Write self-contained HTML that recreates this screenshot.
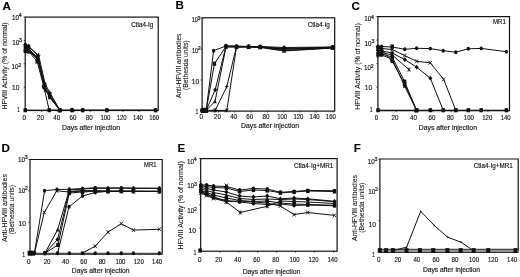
<!DOCTYPE html>
<html><head><meta charset="utf-8"><style>
html,body{margin:0;padding:0;background:#fff;}
body{width:520px;height:277px;overflow:hidden;font-family:"Liberation Sans", sans-serif;}
svg{display:block;} #w{will-change:transform;}
</style></head><body>
<div id="w"><svg width="520" height="277" viewBox="0 0 520 277" font-family='"Liberation Sans", sans-serif' fill="#111">
<rect width="520" height="277" fill="#fff"/>
<rect x="25.20" y="17.10" width="133.00" height="93.40" fill="none" stroke="#111" stroke-width="1.2"/>
<line x1="23.60" y1="110.50" x2="25.20" y2="110.50" stroke="#111" stroke-width="0.7"/>
<line x1="23.60" y1="87.15" x2="25.20" y2="87.15" stroke="#111" stroke-width="0.7"/>
<line x1="23.60" y1="63.80" x2="25.20" y2="63.80" stroke="#111" stroke-width="0.7"/>
<line x1="23.60" y1="40.45" x2="25.20" y2="40.45" stroke="#111" stroke-width="0.7"/>
<line x1="23.60" y1="17.10" x2="25.20" y2="17.10" stroke="#111" stroke-width="0.7"/>
<text x="19.00" y="19.65" font-size="7.3" text-anchor="end" stroke="#111" stroke-width="0.15" textLength="7.00" lengthAdjust="spacingAndGlyphs">10</text>
<text x="18.80" y="17.20" font-size="5.0" text-anchor="start" stroke="#111" stroke-width="0.2" textLength="2.90" lengthAdjust="spacingAndGlyphs">4</text>
<text x="19.30" y="44.75" font-size="7.3" text-anchor="end" stroke="#111" stroke-width="0.15" textLength="7.00" lengthAdjust="spacingAndGlyphs">10</text>
<text x="19.10" y="42.30" font-size="5.0" text-anchor="start" stroke="#111" stroke-width="0.2" textLength="2.90" lengthAdjust="spacingAndGlyphs">3</text>
<text x="18.60" y="69.25" font-size="7.3" text-anchor="end" stroke="#111" stroke-width="0.15" textLength="7.00" lengthAdjust="spacingAndGlyphs">10</text>
<text x="18.40" y="66.80" font-size="5.0" text-anchor="start" stroke="#111" stroke-width="0.2" textLength="2.90" lengthAdjust="spacingAndGlyphs">2</text>
<text x="19.60" y="89.60" font-size="7.6" text-anchor="end" stroke="#111" stroke-width="0.15" textLength="7.50" lengthAdjust="spacingAndGlyphs">10</text>
<text x="20.00" y="111.50" font-size="7.2" text-anchor="end" stroke="#111" stroke-width="0.15" textLength="2.90" lengthAdjust="spacingAndGlyphs">1</text>
<line x1="25.30" y1="110.50" x2="25.30" y2="112.00" stroke="#111" stroke-width="0.7"/>
<line x1="41.55" y1="110.50" x2="41.55" y2="112.00" stroke="#111" stroke-width="0.7"/>
<line x1="57.80" y1="110.50" x2="57.80" y2="112.00" stroke="#111" stroke-width="0.7"/>
<line x1="74.05" y1="110.50" x2="74.05" y2="112.00" stroke="#111" stroke-width="0.7"/>
<line x1="90.30" y1="110.50" x2="90.30" y2="112.00" stroke="#111" stroke-width="0.7"/>
<line x1="106.55" y1="110.50" x2="106.55" y2="112.00" stroke="#111" stroke-width="0.7"/>
<line x1="122.80" y1="110.50" x2="122.80" y2="112.00" stroke="#111" stroke-width="0.7"/>
<line x1="139.05" y1="110.50" x2="139.05" y2="112.00" stroke="#111" stroke-width="0.7"/>
<line x1="155.30" y1="110.50" x2="155.30" y2="112.00" stroke="#111" stroke-width="0.7"/>
<text x="24.20" y="120.05" font-size="7.2" text-anchor="middle" stroke="#111" stroke-width="0.15" textLength="3.50" lengthAdjust="spacingAndGlyphs">0</text>
<text x="40.45" y="120.05" font-size="7.2" text-anchor="middle" stroke="#111" stroke-width="0.15" textLength="6.90" lengthAdjust="spacingAndGlyphs">20</text>
<text x="56.70" y="120.05" font-size="7.2" text-anchor="middle" stroke="#111" stroke-width="0.15" textLength="6.90" lengthAdjust="spacingAndGlyphs">40</text>
<text x="72.95" y="120.05" font-size="7.2" text-anchor="middle" stroke="#111" stroke-width="0.15" textLength="6.90" lengthAdjust="spacingAndGlyphs">60</text>
<text x="89.20" y="120.05" font-size="7.2" text-anchor="middle" stroke="#111" stroke-width="0.15" textLength="6.90" lengthAdjust="spacingAndGlyphs">80</text>
<text x="105.45" y="120.05" font-size="7.2" text-anchor="middle" stroke="#111" stroke-width="0.15" textLength="10.00" lengthAdjust="spacingAndGlyphs">100</text>
<text x="121.70" y="120.05" font-size="7.2" text-anchor="middle" stroke="#111" stroke-width="0.15" textLength="10.00" lengthAdjust="spacingAndGlyphs">120</text>
<text x="137.95" y="120.05" font-size="7.2" text-anchor="middle" stroke="#111" stroke-width="0.15" textLength="10.00" lengthAdjust="spacingAndGlyphs">140</text>
<text x="154.20" y="120.05" font-size="7.2" text-anchor="middle" stroke="#111" stroke-width="0.15" textLength="10.00" lengthAdjust="spacingAndGlyphs">160</text>
<text x="62.00" y="129.50" font-size="6.8" text-anchor="start" stroke="#111" stroke-width="0.15" textLength="58.10" lengthAdjust="spacingAndGlyphs">Days after injection</text>
<text x="2.50" y="9.80" font-size="11.6" text-anchor="start" font-weight="bold" stroke="#000" stroke-width="0.1" fill="#000">A</text>
<text x="131.30" y="27.20" font-size="6.6" text-anchor="start" stroke="#111" stroke-width="0.15" textLength="22.00" lengthAdjust="spacingAndGlyphs">Ctla4-Ig</text>
<text x="7.30" y="109.60" font-size="6.8" text-anchor="start" stroke="#111" stroke-width="0.08" textLength="87.20" lengthAdjust="spacingAndGlyphs" transform="rotate(-90 7.30 109.60)">HFVIII Activity (% of normal)</text>
<rect x="202.10" y="17.80" width="132.60" height="93.30" fill="none" stroke="#111" stroke-width="1.2"/>
<line x1="200.50" y1="111.10" x2="202.10" y2="111.10" stroke="#111" stroke-width="0.7"/>
<line x1="200.50" y1="80.00" x2="202.10" y2="80.00" stroke="#111" stroke-width="0.7"/>
<line x1="200.50" y1="48.90" x2="202.10" y2="48.90" stroke="#111" stroke-width="0.7"/>
<line x1="200.50" y1="17.80" x2="202.10" y2="17.80" stroke="#111" stroke-width="0.7"/>
<text x="197.70" y="22.35" font-size="7.3" text-anchor="end" stroke="#111" stroke-width="0.15" textLength="6.00" lengthAdjust="spacingAndGlyphs">10</text>
<text x="197.50" y="19.90" font-size="5.0" text-anchor="start" stroke="#111" stroke-width="0.2" textLength="2.90" lengthAdjust="spacingAndGlyphs">3</text>
<text x="197.90" y="52.55" font-size="7.3" text-anchor="end" stroke="#111" stroke-width="0.15" textLength="6.00" lengthAdjust="spacingAndGlyphs">10</text>
<text x="197.70" y="50.10" font-size="5.0" text-anchor="start" stroke="#111" stroke-width="0.2" textLength="2.90" lengthAdjust="spacingAndGlyphs">2</text>
<text x="199.20" y="83.70" font-size="7.6" text-anchor="end" stroke="#111" stroke-width="0.15" textLength="7.50" lengthAdjust="spacingAndGlyphs">10</text>
<text x="198.40" y="113.50" font-size="7.2" text-anchor="end" stroke="#111" stroke-width="0.15" textLength="2.90" lengthAdjust="spacingAndGlyphs">1</text>
<line x1="202.10" y1="111.10" x2="202.10" y2="112.60" stroke="#111" stroke-width="0.7"/>
<line x1="218.42" y1="111.10" x2="218.42" y2="112.60" stroke="#111" stroke-width="0.7"/>
<line x1="234.74" y1="111.10" x2="234.74" y2="112.60" stroke="#111" stroke-width="0.7"/>
<line x1="251.06" y1="111.10" x2="251.06" y2="112.60" stroke="#111" stroke-width="0.7"/>
<line x1="267.38" y1="111.10" x2="267.38" y2="112.60" stroke="#111" stroke-width="0.7"/>
<line x1="283.70" y1="111.10" x2="283.70" y2="112.60" stroke="#111" stroke-width="0.7"/>
<line x1="300.02" y1="111.10" x2="300.02" y2="112.60" stroke="#111" stroke-width="0.7"/>
<line x1="316.34" y1="111.10" x2="316.34" y2="112.60" stroke="#111" stroke-width="0.7"/>
<line x1="332.66" y1="111.10" x2="332.66" y2="112.60" stroke="#111" stroke-width="0.7"/>
<text x="201.20" y="119.35" font-size="7.2" text-anchor="middle" stroke="#111" stroke-width="0.15" textLength="3.50" lengthAdjust="spacingAndGlyphs">0</text>
<text x="217.40" y="119.35" font-size="7.2" text-anchor="middle" stroke="#111" stroke-width="0.15" textLength="6.90" lengthAdjust="spacingAndGlyphs">20</text>
<text x="233.60" y="119.35" font-size="7.2" text-anchor="middle" stroke="#111" stroke-width="0.15" textLength="6.90" lengthAdjust="spacingAndGlyphs">40</text>
<text x="249.80" y="119.35" font-size="7.2" text-anchor="middle" stroke="#111" stroke-width="0.15" textLength="6.90" lengthAdjust="spacingAndGlyphs">60</text>
<text x="266.00" y="119.35" font-size="7.2" text-anchor="middle" stroke="#111" stroke-width="0.15" textLength="6.90" lengthAdjust="spacingAndGlyphs">80</text>
<text x="282.20" y="119.35" font-size="7.2" text-anchor="middle" stroke="#111" stroke-width="0.15" textLength="10.00" lengthAdjust="spacingAndGlyphs">100</text>
<text x="298.40" y="119.35" font-size="7.2" text-anchor="middle" stroke="#111" stroke-width="0.15" textLength="10.00" lengthAdjust="spacingAndGlyphs">120</text>
<text x="314.60" y="119.35" font-size="7.2" text-anchor="middle" stroke="#111" stroke-width="0.15" textLength="10.00" lengthAdjust="spacingAndGlyphs">140</text>
<text x="330.80" y="119.35" font-size="7.2" text-anchor="middle" stroke="#111" stroke-width="0.15" textLength="10.00" lengthAdjust="spacingAndGlyphs">160</text>
<text x="241.00" y="127.60" font-size="6.8" text-anchor="start" stroke="#111" stroke-width="0.15" textLength="58.00" lengthAdjust="spacingAndGlyphs">Days after injection</text>
<text x="175.50" y="9.40" font-size="11.6" text-anchor="start" font-weight="bold" stroke="#000" stroke-width="0.1" fill="#000">B</text>
<text x="307.70" y="27.20" font-size="6.6" text-anchor="start" stroke="#111" stroke-width="0.15" textLength="22.20" lengthAdjust="spacingAndGlyphs">Ctla4-Ig</text>
<text x="181.30" y="98.00" font-size="6.8" text-anchor="start" stroke="#111" stroke-width="0.08" textLength="64.20" lengthAdjust="spacingAndGlyphs" transform="rotate(-90 181.30 98.00)">Anti-HFVIII antibodies</text>
<text x="188.30" y="90.00" font-size="6.8" text-anchor="start" stroke="#111" stroke-width="0.08" textLength="49.60" lengthAdjust="spacingAndGlyphs" transform="rotate(-90 188.30 90.00)">(Bethesda units)</text>
<rect x="377.90" y="16.60" width="131.60" height="94.10" fill="none" stroke="#111" stroke-width="1.2"/>
<line x1="376.30" y1="110.70" x2="377.90" y2="110.70" stroke="#111" stroke-width="0.7"/>
<line x1="376.30" y1="87.18" x2="377.90" y2="87.18" stroke="#111" stroke-width="0.7"/>
<line x1="376.30" y1="63.65" x2="377.90" y2="63.65" stroke="#111" stroke-width="0.7"/>
<line x1="376.30" y1="40.13" x2="377.90" y2="40.13" stroke="#111" stroke-width="0.7"/>
<line x1="376.30" y1="16.60" x2="377.90" y2="16.60" stroke="#111" stroke-width="0.7"/>
<text x="371.30" y="21.25" font-size="7.3" text-anchor="end" stroke="#111" stroke-width="0.15" textLength="7.00" lengthAdjust="spacingAndGlyphs">10</text>
<text x="371.10" y="18.80" font-size="5.0" text-anchor="start" stroke="#111" stroke-width="0.2" textLength="2.90" lengthAdjust="spacingAndGlyphs">4</text>
<text x="371.60" y="45.65" font-size="7.3" text-anchor="end" stroke="#111" stroke-width="0.15" textLength="7.00" lengthAdjust="spacingAndGlyphs">10</text>
<text x="371.40" y="43.20" font-size="5.0" text-anchor="start" stroke="#111" stroke-width="0.2" textLength="2.90" lengthAdjust="spacingAndGlyphs">3</text>
<text x="371.00" y="69.95" font-size="7.3" text-anchor="end" stroke="#111" stroke-width="0.15" textLength="7.00" lengthAdjust="spacingAndGlyphs">10</text>
<text x="370.80" y="67.50" font-size="5.0" text-anchor="start" stroke="#111" stroke-width="0.2" textLength="2.90" lengthAdjust="spacingAndGlyphs">2</text>
<text x="372.20" y="89.70" font-size="7.6" text-anchor="end" stroke="#111" stroke-width="0.15" textLength="7.50" lengthAdjust="spacingAndGlyphs">10</text>
<text x="372.70" y="111.60" font-size="7.2" text-anchor="end" stroke="#111" stroke-width="0.15" textLength="2.90" lengthAdjust="spacingAndGlyphs">1</text>
<line x1="378.00" y1="110.70" x2="378.00" y2="112.20" stroke="#111" stroke-width="0.7"/>
<line x1="396.32" y1="110.70" x2="396.32" y2="112.20" stroke="#111" stroke-width="0.7"/>
<line x1="414.64" y1="110.70" x2="414.64" y2="112.20" stroke="#111" stroke-width="0.7"/>
<line x1="432.96" y1="110.70" x2="432.96" y2="112.20" stroke="#111" stroke-width="0.7"/>
<line x1="451.28" y1="110.70" x2="451.28" y2="112.20" stroke="#111" stroke-width="0.7"/>
<line x1="469.60" y1="110.70" x2="469.60" y2="112.20" stroke="#111" stroke-width="0.7"/>
<line x1="487.92" y1="110.70" x2="487.92" y2="112.20" stroke="#111" stroke-width="0.7"/>
<line x1="506.24" y1="110.70" x2="506.24" y2="112.20" stroke="#111" stroke-width="0.7"/>
<text x="376.60" y="120.15" font-size="7.2" text-anchor="middle" stroke="#111" stroke-width="0.15" textLength="3.50" lengthAdjust="spacingAndGlyphs">0</text>
<text x="395.04" y="120.15" font-size="7.2" text-anchor="middle" stroke="#111" stroke-width="0.15" textLength="6.90" lengthAdjust="spacingAndGlyphs">20</text>
<text x="413.48" y="120.15" font-size="7.2" text-anchor="middle" stroke="#111" stroke-width="0.15" textLength="6.90" lengthAdjust="spacingAndGlyphs">40</text>
<text x="431.92" y="120.15" font-size="7.2" text-anchor="middle" stroke="#111" stroke-width="0.15" textLength="6.90" lengthAdjust="spacingAndGlyphs">60</text>
<text x="450.36" y="120.15" font-size="7.2" text-anchor="middle" stroke="#111" stroke-width="0.15" textLength="6.90" lengthAdjust="spacingAndGlyphs">80</text>
<text x="468.80" y="120.15" font-size="7.2" text-anchor="middle" stroke="#111" stroke-width="0.15" textLength="10.00" lengthAdjust="spacingAndGlyphs">100</text>
<text x="487.24" y="120.15" font-size="7.2" text-anchor="middle" stroke="#111" stroke-width="0.15" textLength="10.00" lengthAdjust="spacingAndGlyphs">120</text>
<text x="505.68" y="120.15" font-size="7.2" text-anchor="middle" stroke="#111" stroke-width="0.15" textLength="10.00" lengthAdjust="spacingAndGlyphs">140</text>
<text x="418.80" y="129.60" font-size="6.8" text-anchor="start" stroke="#111" stroke-width="0.15" textLength="58.20" lengthAdjust="spacingAndGlyphs">Days after injection</text>
<text x="351.60" y="10.00" font-size="11.6" text-anchor="start" font-weight="bold" stroke="#000" stroke-width="0.1" fill="#000">C</text>
<text x="493.00" y="23.60" font-size="6.6" text-anchor="start" stroke="#111" stroke-width="0.15" textLength="12.80" lengthAdjust="spacingAndGlyphs">MR1</text>
<text x="359.90" y="109.80" font-size="6.8" text-anchor="start" stroke="#111" stroke-width="0.08" textLength="86.50" lengthAdjust="spacingAndGlyphs" transform="rotate(-90 359.90 109.80)">HFVIII Activity (% of normal)</text>
<polyline points="30.00,253.80 30.00,159.50 162.20,159.50 162.20,253.80" fill="none" stroke="#111" stroke-width="1.2"/>
<line x1="28.40" y1="253.80" x2="30.00" y2="253.80" stroke="#111" stroke-width="0.7"/>
<line x1="28.40" y1="222.37" x2="30.00" y2="222.37" stroke="#111" stroke-width="0.7"/>
<line x1="28.40" y1="190.93" x2="30.00" y2="190.93" stroke="#111" stroke-width="0.7"/>
<line x1="28.40" y1="159.50" x2="30.00" y2="159.50" stroke="#111" stroke-width="0.7"/>
<text x="24.90" y="161.85" font-size="7.3" text-anchor="end" stroke="#111" stroke-width="0.15" textLength="7.00" lengthAdjust="spacingAndGlyphs">10</text>
<text x="24.70" y="159.40" font-size="5.0" text-anchor="start" stroke="#111" stroke-width="0.2" textLength="2.90" lengthAdjust="spacingAndGlyphs">3</text>
<text x="25.30" y="192.55" font-size="7.3" text-anchor="end" stroke="#111" stroke-width="0.15" textLength="7.00" lengthAdjust="spacingAndGlyphs">10</text>
<text x="25.10" y="190.10" font-size="5.0" text-anchor="start" stroke="#111" stroke-width="0.2" textLength="2.90" lengthAdjust="spacingAndGlyphs">2</text>
<text x="25.90" y="226.20" font-size="7.6" text-anchor="end" stroke="#111" stroke-width="0.15" textLength="7.50" lengthAdjust="spacingAndGlyphs">10</text>
<text x="25.20" y="257.30" font-size="7.2" text-anchor="end" stroke="#111" stroke-width="0.15" textLength="2.90" lengthAdjust="spacingAndGlyphs">1</text>
<line x1="29.70" y1="253.80" x2="29.70" y2="255.30" stroke="#111" stroke-width="0.7"/>
<line x1="48.03" y1="253.80" x2="48.03" y2="255.30" stroke="#111" stroke-width="0.7"/>
<line x1="66.36" y1="253.80" x2="66.36" y2="255.30" stroke="#111" stroke-width="0.7"/>
<line x1="84.68" y1="253.80" x2="84.68" y2="255.30" stroke="#111" stroke-width="0.7"/>
<line x1="103.01" y1="253.80" x2="103.01" y2="255.30" stroke="#111" stroke-width="0.7"/>
<line x1="121.34" y1="253.80" x2="121.34" y2="255.30" stroke="#111" stroke-width="0.7"/>
<line x1="139.67" y1="253.80" x2="139.67" y2="255.30" stroke="#111" stroke-width="0.7"/>
<line x1="158.00" y1="253.80" x2="158.00" y2="255.30" stroke="#111" stroke-width="0.7"/>
<text x="28.80" y="263.55" font-size="7.2" text-anchor="middle" stroke="#111" stroke-width="0.15" textLength="3.50" lengthAdjust="spacingAndGlyphs">0</text>
<text x="47.13" y="263.55" font-size="7.2" text-anchor="middle" stroke="#111" stroke-width="0.15" textLength="6.90" lengthAdjust="spacingAndGlyphs">20</text>
<text x="65.46" y="263.55" font-size="7.2" text-anchor="middle" stroke="#111" stroke-width="0.15" textLength="6.90" lengthAdjust="spacingAndGlyphs">40</text>
<text x="83.78" y="263.55" font-size="7.2" text-anchor="middle" stroke="#111" stroke-width="0.15" textLength="6.90" lengthAdjust="spacingAndGlyphs">60</text>
<text x="102.11" y="263.55" font-size="7.2" text-anchor="middle" stroke="#111" stroke-width="0.15" textLength="6.90" lengthAdjust="spacingAndGlyphs">80</text>
<text x="120.44" y="263.55" font-size="7.2" text-anchor="middle" stroke="#111" stroke-width="0.15" textLength="10.00" lengthAdjust="spacingAndGlyphs">100</text>
<text x="138.77" y="263.55" font-size="7.2" text-anchor="middle" stroke="#111" stroke-width="0.15" textLength="10.00" lengthAdjust="spacingAndGlyphs">120</text>
<text x="157.10" y="263.55" font-size="7.2" text-anchor="middle" stroke="#111" stroke-width="0.15" textLength="10.00" lengthAdjust="spacingAndGlyphs">140</text>
<text x="71.80" y="273.00" font-size="6.8" text-anchor="start" stroke="#111" stroke-width="0.15" textLength="57.80" lengthAdjust="spacingAndGlyphs">Days after injection</text>
<text x="1.60" y="152.10" font-size="11.6" text-anchor="start" font-weight="bold" stroke="#000" stroke-width="0.1" fill="#000">D</text>
<text x="144.00" y="167.10" font-size="6.6" text-anchor="start" stroke="#111" stroke-width="0.15" textLength="12.50" lengthAdjust="spacingAndGlyphs">MR1</text>
<text x="6.80" y="241.90" font-size="6.8" text-anchor="start" stroke="#111" stroke-width="0.08" textLength="67.80" lengthAdjust="spacingAndGlyphs" transform="rotate(-90 6.80 241.90)">Anti-HFVIII antibodies</text>
<text x="13.80" y="234.20" font-size="6.8" text-anchor="start" stroke="#111" stroke-width="0.08" textLength="49.20" lengthAdjust="spacingAndGlyphs" transform="rotate(-90 13.80 234.20)">(Bethesda units)</text>
<rect x="200.70" y="158.60" width="136.40" height="92.60" fill="none" stroke="#111" stroke-width="1.2"/>
<line x1="199.10" y1="251.20" x2="200.70" y2="251.20" stroke="#111" stroke-width="0.7"/>
<line x1="199.10" y1="228.05" x2="200.70" y2="228.05" stroke="#111" stroke-width="0.7"/>
<line x1="199.10" y1="204.90" x2="200.70" y2="204.90" stroke="#111" stroke-width="0.7"/>
<line x1="199.10" y1="181.75" x2="200.70" y2="181.75" stroke="#111" stroke-width="0.7"/>
<line x1="199.10" y1="158.60" x2="200.70" y2="158.60" stroke="#111" stroke-width="0.7"/>
<text x="193.90" y="163.85" font-size="7.3" text-anchor="end" stroke="#111" stroke-width="0.15" textLength="7.00" lengthAdjust="spacingAndGlyphs">10</text>
<text x="193.70" y="161.40" font-size="5.0" text-anchor="start" stroke="#111" stroke-width="0.2" textLength="2.90" lengthAdjust="spacingAndGlyphs">4</text>
<text x="194.20" y="188.45" font-size="7.3" text-anchor="end" stroke="#111" stroke-width="0.15" textLength="7.00" lengthAdjust="spacingAndGlyphs">10</text>
<text x="194.00" y="186.00" font-size="5.0" text-anchor="start" stroke="#111" stroke-width="0.2" textLength="2.90" lengthAdjust="spacingAndGlyphs">3</text>
<text x="194.20" y="213.05" font-size="7.3" text-anchor="end" stroke="#111" stroke-width="0.15" textLength="7.00" lengthAdjust="spacingAndGlyphs">10</text>
<text x="194.00" y="210.60" font-size="5.0" text-anchor="start" stroke="#111" stroke-width="0.2" textLength="2.90" lengthAdjust="spacingAndGlyphs">2</text>
<text x="195.90" y="233.00" font-size="7.6" text-anchor="end" stroke="#111" stroke-width="0.15" textLength="7.50" lengthAdjust="spacingAndGlyphs">10</text>
<text x="196.40" y="255.20" font-size="7.2" text-anchor="end" stroke="#111" stroke-width="0.15" textLength="2.90" lengthAdjust="spacingAndGlyphs">1</text>
<line x1="200.80" y1="251.20" x2="200.80" y2="252.70" stroke="#111" stroke-width="0.7"/>
<line x1="219.76" y1="251.20" x2="219.76" y2="252.70" stroke="#111" stroke-width="0.7"/>
<line x1="238.72" y1="251.20" x2="238.72" y2="252.70" stroke="#111" stroke-width="0.7"/>
<line x1="257.68" y1="251.20" x2="257.68" y2="252.70" stroke="#111" stroke-width="0.7"/>
<line x1="276.64" y1="251.20" x2="276.64" y2="252.70" stroke="#111" stroke-width="0.7"/>
<line x1="295.60" y1="251.20" x2="295.60" y2="252.70" stroke="#111" stroke-width="0.7"/>
<line x1="314.56" y1="251.20" x2="314.56" y2="252.70" stroke="#111" stroke-width="0.7"/>
<line x1="333.52" y1="251.20" x2="333.52" y2="252.70" stroke="#111" stroke-width="0.7"/>
<text x="199.80" y="261.65" font-size="7.2" text-anchor="middle" stroke="#111" stroke-width="0.15" textLength="3.50" lengthAdjust="spacingAndGlyphs">0</text>
<text x="218.76" y="261.65" font-size="7.2" text-anchor="middle" stroke="#111" stroke-width="0.15" textLength="6.90" lengthAdjust="spacingAndGlyphs">20</text>
<text x="237.72" y="261.65" font-size="7.2" text-anchor="middle" stroke="#111" stroke-width="0.15" textLength="6.90" lengthAdjust="spacingAndGlyphs">40</text>
<text x="256.68" y="261.65" font-size="7.2" text-anchor="middle" stroke="#111" stroke-width="0.15" textLength="6.90" lengthAdjust="spacingAndGlyphs">60</text>
<text x="275.64" y="261.65" font-size="7.2" text-anchor="middle" stroke="#111" stroke-width="0.15" textLength="6.90" lengthAdjust="spacingAndGlyphs">80</text>
<text x="294.60" y="261.65" font-size="7.2" text-anchor="middle" stroke="#111" stroke-width="0.15" textLength="10.00" lengthAdjust="spacingAndGlyphs">100</text>
<text x="313.56" y="261.65" font-size="7.2" text-anchor="middle" stroke="#111" stroke-width="0.15" textLength="10.00" lengthAdjust="spacingAndGlyphs">120</text>
<text x="332.52" y="261.65" font-size="7.2" text-anchor="middle" stroke="#111" stroke-width="0.15" textLength="10.00" lengthAdjust="spacingAndGlyphs">140</text>
<text x="242.70" y="273.70" font-size="6.8" text-anchor="start" stroke="#111" stroke-width="0.15" textLength="57.60" lengthAdjust="spacingAndGlyphs">Days after injection</text>
<text x="177.60" y="151.60" font-size="11.6" text-anchor="start" font-weight="bold" stroke="#000" stroke-width="0.1" fill="#000">E</text>
<text x="294.00" y="168.00" font-size="6.6" text-anchor="start" stroke="#111" stroke-width="0.15" textLength="39.40" lengthAdjust="spacingAndGlyphs">Ctla4-Ig+MR1</text>
<text x="182.90" y="249.40" font-size="6.8" text-anchor="start" stroke="#111" stroke-width="0.08" textLength="88.20" lengthAdjust="spacingAndGlyphs" transform="rotate(-90 182.90 249.40)">HFVIII Activity (% of normal)</text>
<polyline points="379.90,251.20 379.90,159.00 518.20,159.00 518.20,251.20" fill="none" stroke="#111" stroke-width="1.2"/>
<line x1="378.30" y1="251.20" x2="379.90" y2="251.20" stroke="#111" stroke-width="0.7"/>
<line x1="378.30" y1="220.47" x2="379.90" y2="220.47" stroke="#111" stroke-width="0.7"/>
<line x1="378.30" y1="189.73" x2="379.90" y2="189.73" stroke="#111" stroke-width="0.7"/>
<line x1="378.30" y1="159.00" x2="379.90" y2="159.00" stroke="#111" stroke-width="0.7"/>
<text x="374.70" y="163.65" font-size="7.3" text-anchor="end" stroke="#111" stroke-width="0.15" textLength="7.00" lengthAdjust="spacingAndGlyphs">10</text>
<text x="374.50" y="161.20" font-size="5.0" text-anchor="start" stroke="#111" stroke-width="0.2" textLength="2.90" lengthAdjust="spacingAndGlyphs">3</text>
<text x="375.30" y="193.65" font-size="7.3" text-anchor="end" stroke="#111" stroke-width="0.15" textLength="7.00" lengthAdjust="spacingAndGlyphs">10</text>
<text x="375.10" y="191.20" font-size="5.0" text-anchor="start" stroke="#111" stroke-width="0.2" textLength="2.90" lengthAdjust="spacingAndGlyphs">2</text>
<text x="375.90" y="226.70" font-size="7.6" text-anchor="end" stroke="#111" stroke-width="0.15" textLength="7.50" lengthAdjust="spacingAndGlyphs">10</text>
<text x="375.00" y="256.90" font-size="7.2" text-anchor="end" stroke="#111" stroke-width="0.15" textLength="2.90" lengthAdjust="spacingAndGlyphs">1</text>
<line x1="379.80" y1="251.20" x2="379.80" y2="252.70" stroke="#111" stroke-width="0.7"/>
<line x1="398.84" y1="251.20" x2="398.84" y2="252.70" stroke="#111" stroke-width="0.7"/>
<line x1="417.88" y1="251.20" x2="417.88" y2="252.70" stroke="#111" stroke-width="0.7"/>
<line x1="436.92" y1="251.20" x2="436.92" y2="252.70" stroke="#111" stroke-width="0.7"/>
<line x1="455.96" y1="251.20" x2="455.96" y2="252.70" stroke="#111" stroke-width="0.7"/>
<line x1="475.00" y1="251.20" x2="475.00" y2="252.70" stroke="#111" stroke-width="0.7"/>
<line x1="494.04" y1="251.20" x2="494.04" y2="252.70" stroke="#111" stroke-width="0.7"/>
<line x1="513.08" y1="251.20" x2="513.08" y2="252.70" stroke="#111" stroke-width="0.7"/>
<text x="378.80" y="261.65" font-size="7.2" text-anchor="middle" stroke="#111" stroke-width="0.15" textLength="3.50" lengthAdjust="spacingAndGlyphs">0</text>
<text x="397.84" y="261.65" font-size="7.2" text-anchor="middle" stroke="#111" stroke-width="0.15" textLength="6.90" lengthAdjust="spacingAndGlyphs">20</text>
<text x="416.88" y="261.65" font-size="7.2" text-anchor="middle" stroke="#111" stroke-width="0.15" textLength="6.90" lengthAdjust="spacingAndGlyphs">40</text>
<text x="435.92" y="261.65" font-size="7.2" text-anchor="middle" stroke="#111" stroke-width="0.15" textLength="6.90" lengthAdjust="spacingAndGlyphs">60</text>
<text x="454.96" y="261.65" font-size="7.2" text-anchor="middle" stroke="#111" stroke-width="0.15" textLength="6.90" lengthAdjust="spacingAndGlyphs">80</text>
<text x="474.00" y="261.65" font-size="7.2" text-anchor="middle" stroke="#111" stroke-width="0.15" textLength="10.00" lengthAdjust="spacingAndGlyphs">100</text>
<text x="493.04" y="261.65" font-size="7.2" text-anchor="middle" stroke="#111" stroke-width="0.15" textLength="10.00" lengthAdjust="spacingAndGlyphs">120</text>
<text x="512.08" y="261.65" font-size="7.2" text-anchor="middle" stroke="#111" stroke-width="0.15" textLength="10.00" lengthAdjust="spacingAndGlyphs">140</text>
<text x="422.90" y="271.70" font-size="6.8" text-anchor="start" stroke="#111" stroke-width="0.15" textLength="57.20" lengthAdjust="spacingAndGlyphs">Days after injection</text>
<text x="353.80" y="152.40" font-size="11.6" text-anchor="start" font-weight="bold" stroke="#000" stroke-width="0.1" fill="#000">F</text>
<text x="473.80" y="168.00" font-size="6.6" text-anchor="start" stroke="#111" stroke-width="0.15" textLength="38.90" lengthAdjust="spacingAndGlyphs">Ctla4-Ig+MR1</text>
<text x="356.80" y="241.00" font-size="6.8" text-anchor="start" stroke="#111" stroke-width="0.08" textLength="65.80" lengthAdjust="spacingAndGlyphs" transform="rotate(-90 356.80 241.00)">Anti-HFVIII antibodies</text>
<text x="364.00" y="232.80" font-size="6.8" text-anchor="start" stroke="#111" stroke-width="0.08" textLength="50.20" lengthAdjust="spacingAndGlyphs" transform="rotate(-90 364.00 232.80)">(Bethesda units)</text>
<polyline points="25.30,45.00 28.60,47.00 38.60,55.20 45.20,84.00 49.80,92.50 59.80,110.20 72.00,110.20 82.70,110.20 106.90,110.20 155.60,110.20" fill="none" stroke="#111" stroke-width="1.0" stroke-linejoin="round"/>
<path d="M23.52,45.00L27.09,45.00M25.30,42.90L25.30,47.10" stroke="#111" stroke-width="0.9"/>
<path d="M26.82,47.00L30.39,47.00M28.60,44.90L28.60,49.10" stroke="#111" stroke-width="0.9"/>
<path d="M36.82,55.20L40.38,55.20M38.60,53.10L38.60,57.30" stroke="#111" stroke-width="0.9"/>
<path d="M43.42,84.00L46.98,84.00M45.20,81.90L45.20,86.10" stroke="#111" stroke-width="0.9"/>
<path d="M48.02,92.50L51.58,92.50M49.80,90.40L49.80,94.60" stroke="#111" stroke-width="0.9"/>
<path d="M58.02,110.20L61.58,110.20M59.80,108.10L59.80,112.30" stroke="#111" stroke-width="0.9"/>
<path d="M70.22,110.20L73.78,110.20M72.00,108.10L72.00,112.30" stroke="#111" stroke-width="0.9"/>
<path d="M80.92,110.20L84.48,110.20M82.70,108.10L82.70,112.30" stroke="#111" stroke-width="0.9"/>
<path d="M105.12,110.20L108.69,110.20M106.90,108.10L106.90,112.30" stroke="#111" stroke-width="0.9"/>
<path d="M153.81,110.20L157.38,110.20M155.60,108.10L155.60,112.30" stroke="#111" stroke-width="0.9"/>
<polyline points="25.30,44.50 28.60,46.00 38.00,56.00 44.80,86.00 49.80,93.80 59.80,110.20" fill="none" stroke="#111" stroke-width="1.0" stroke-linejoin="round"/>
<polygon points="25.30,42.10 27.34,44.50 25.30,46.90 23.26,44.50"/>
<polygon points="28.60,43.60 30.64,46.00 28.60,48.40 26.56,46.00"/>
<polygon points="38.00,53.60 40.04,56.00 38.00,58.40 35.96,56.00"/>
<polygon points="44.80,83.60 46.84,86.00 44.80,88.40 42.76,86.00"/>
<polygon points="49.80,91.40 51.84,93.80 49.80,96.20 47.76,93.80"/>
<polygon points="59.80,107.80 61.84,110.20 59.80,112.60 57.76,110.20"/>
<polyline points="25.30,46.50 28.60,48.50 37.40,57.50 44.30,87.00 49.60,95.50 59.80,110.20" fill="none" stroke="#111" stroke-width="1.0" stroke-linejoin="round"/>
<ellipse cx="25.30" cy="46.50" rx="1.66" ry="1.95"/>
<ellipse cx="28.60" cy="48.50" rx="1.66" ry="1.95"/>
<ellipse cx="37.40" cy="57.50" rx="1.66" ry="1.95"/>
<ellipse cx="44.30" cy="87.00" rx="1.66" ry="1.95"/>
<ellipse cx="49.60" cy="95.50" rx="1.66" ry="1.95"/>
<ellipse cx="59.80" cy="110.20" rx="1.66" ry="1.95"/>
<polyline points="25.30,48.00 28.60,49.50 37.80,59.00 44.80,88.50 49.50,96.50 59.80,110.20" fill="none" stroke="#111" stroke-width="1.0" stroke-linejoin="round"/>
<ellipse cx="25.30" cy="48.00" rx="1.66" ry="1.95"/>
<ellipse cx="28.60" cy="49.50" rx="1.66" ry="1.95"/>
<ellipse cx="37.80" cy="59.00" rx="1.66" ry="1.95"/>
<ellipse cx="44.80" cy="88.50" rx="1.66" ry="1.95"/>
<ellipse cx="49.50" cy="96.50" rx="1.66" ry="1.95"/>
<ellipse cx="59.80" cy="110.20" rx="1.66" ry="1.95"/>
<polyline points="25.30,49.00 28.60,50.50 38.40,60.50 45.50,90.00 49.80,97.50 59.80,110.20" fill="none" stroke="#111" stroke-width="1.0" stroke-linejoin="round"/>
<polygon points="25.30,46.80 27.17,50.76 23.43,50.76"/>
<polygon points="28.60,48.30 30.47,52.26 26.73,52.26"/>
<polygon points="38.40,58.30 40.27,62.26 36.53,62.26"/>
<polygon points="45.50,87.80 47.37,91.76 43.63,91.76"/>
<polygon points="49.80,95.30 51.67,99.26 47.93,99.26"/>
<polygon points="59.80,108.00 61.67,111.96 57.93,111.96"/>
<polyline points="25.30,51.00 28.60,51.50 37.20,61.50 43.80,86.50 49.20,110.20 59.80,110.20" fill="none" stroke="#111" stroke-width="1.0" stroke-linejoin="round"/>
<rect x="23.56" y="48.95" width="3.48" height="4.10"/>
<rect x="26.86" y="49.45" width="3.48" height="4.10"/>
<rect x="35.46" y="59.45" width="3.48" height="4.10"/>
<rect x="42.06" y="84.45" width="3.48" height="4.10"/>
<rect x="47.46" y="108.15" width="3.48" height="4.10"/>
<rect x="58.06" y="108.15" width="3.48" height="4.10"/>
<polyline points="25.30,110.20 59.80,110.20 72.00,110.20 82.70,110.20 106.90,110.20 155.60,110.20" fill="none" stroke="#111" stroke-width="1.0" stroke-linejoin="round"/>
<rect x="23.56" y="108.15" width="3.48" height="4.10"/>
<rect x="58.06" y="108.15" width="3.48" height="4.10"/>
<rect x="70.26" y="108.15" width="3.48" height="4.10"/>
<rect x="80.96" y="108.15" width="3.48" height="4.10"/>
<rect x="105.16" y="108.15" width="3.48" height="4.10"/>
<rect x="153.86" y="108.15" width="3.48" height="4.10"/>
<polygon points="72.00,107.20 73.87,111.16 70.13,111.16"/>
<polyline points="202.10,110.40 206.20,110.40 213.60,50.70 226.00,46.00 236.50,46.00 248.60,46.50 260.20,46.50 284.10,47.50 332.60,47.00" fill="none" stroke="#111" stroke-width="1.0" stroke-linejoin="round"/>
<ellipse cx="202.10" cy="110.40" rx="1.66" ry="1.95"/>
<ellipse cx="206.20" cy="110.40" rx="1.66" ry="1.95"/>
<ellipse cx="213.60" cy="50.70" rx="1.66" ry="1.95"/>
<ellipse cx="226.00" cy="46.00" rx="1.66" ry="1.95"/>
<ellipse cx="236.50" cy="46.00" rx="1.66" ry="1.95"/>
<ellipse cx="248.60" cy="46.50" rx="1.66" ry="1.95"/>
<ellipse cx="260.20" cy="46.50" rx="1.66" ry="1.95"/>
<ellipse cx="284.10" cy="47.50" rx="1.66" ry="1.95"/>
<ellipse cx="332.60" cy="47.00" rx="1.66" ry="1.95"/>
<polyline points="202.10,110.40 206.20,110.40 214.40,63.70 226.00,46.50 236.50,47.00 248.60,47.00 260.20,47.00 284.10,49.00 332.60,47.50" fill="none" stroke="#111" stroke-width="1.0" stroke-linejoin="round"/>
<rect x="200.36" y="108.35" width="3.48" height="4.10"/>
<rect x="204.46" y="108.35" width="3.48" height="4.10"/>
<rect x="212.66" y="61.65" width="3.48" height="4.10"/>
<rect x="224.26" y="44.45" width="3.48" height="4.10"/>
<rect x="234.76" y="44.95" width="3.48" height="4.10"/>
<rect x="246.86" y="44.95" width="3.48" height="4.10"/>
<rect x="258.46" y="44.95" width="3.48" height="4.10"/>
<rect x="282.36" y="46.95" width="3.48" height="4.10"/>
<rect x="330.86" y="45.45" width="3.48" height="4.10"/>
<polyline points="202.10,110.40 206.20,110.40 215.20,89.80 226.00,46.00 236.50,46.50 248.60,46.50 260.20,46.80 284.10,48.50 332.60,47.20" fill="none" stroke="#111" stroke-width="1.0" stroke-linejoin="round"/>
<polygon points="202.10,108.00 204.14,110.40 202.10,112.80 200.06,110.40"/>
<polygon points="206.20,108.00 208.24,110.40 206.20,112.80 204.16,110.40"/>
<polygon points="215.20,87.40 217.24,89.80 215.20,92.20 213.16,89.80"/>
<polygon points="226.00,43.60 228.04,46.00 226.00,48.40 223.96,46.00"/>
<polygon points="236.50,44.10 238.54,46.50 236.50,48.90 234.46,46.50"/>
<polygon points="248.60,44.10 250.64,46.50 248.60,48.90 246.56,46.50"/>
<polygon points="260.20,44.40 262.24,46.80 260.20,49.20 258.16,46.80"/>
<polygon points="284.10,46.10 286.14,48.50 284.10,50.90 282.06,48.50"/>
<polygon points="332.60,44.80 334.64,47.20 332.60,49.60 330.56,47.20"/>
<polyline points="206.20,110.40 215.00,101.40 226.00,47.00 236.50,47.00 248.60,46.50 260.20,47.00 284.10,50.50 332.60,48.00" fill="none" stroke="#111" stroke-width="1.0" stroke-linejoin="round"/>
<polygon points="206.20,108.20 208.07,112.16 204.33,112.16"/>
<polygon points="215.00,99.20 216.87,103.16 213.13,103.16"/>
<polygon points="226.00,44.80 227.87,48.76 224.13,48.76"/>
<polygon points="236.50,44.80 238.37,48.76 234.63,48.76"/>
<polygon points="248.60,44.30 250.47,48.26 246.73,48.26"/>
<polygon points="260.20,44.80 262.07,48.76 258.33,48.76"/>
<polygon points="284.10,48.30 285.97,52.26 282.23,52.26"/>
<polygon points="332.60,45.80 334.47,49.76 330.73,49.76"/>
<polyline points="206.20,110.40 215.20,110.40 226.80,86.60 236.50,46.50 248.60,47.00 260.20,47.00 284.10,49.50 332.60,47.50" fill="none" stroke="#111" stroke-width="1.0" stroke-linejoin="round"/>
<path d="M204.41,110.40L207.98,110.40M206.20,108.30L206.20,112.50" stroke="#111" stroke-width="0.9"/>
<path d="M213.41,110.40L216.98,110.40M215.20,108.30L215.20,112.50" stroke="#111" stroke-width="0.9"/>
<path d="M225.02,86.60L228.59,86.60M226.80,84.50L226.80,88.70" stroke="#111" stroke-width="0.9"/>
<path d="M234.72,46.50L238.28,46.50M236.50,44.40L236.50,48.60" stroke="#111" stroke-width="0.9"/>
<path d="M246.81,47.00L250.38,47.00M248.60,44.90L248.60,49.10" stroke="#111" stroke-width="0.9"/>
<path d="M258.41,47.00L261.99,47.00M260.20,44.90L260.20,49.10" stroke="#111" stroke-width="0.9"/>
<path d="M282.31,49.50L285.89,49.50M284.10,47.40L284.10,51.60" stroke="#111" stroke-width="0.9"/>
<path d="M330.81,47.50L334.39,47.50M332.60,45.40L332.60,49.60" stroke="#111" stroke-width="0.9"/>
<polyline points="206.20,110.40 215.00,110.40 226.80,110.40 236.50,47.00 248.60,46.50 260.20,47.50 284.10,51.00 332.60,48.00" fill="none" stroke="#111" stroke-width="1.0" stroke-linejoin="round"/>
<path d="M204.58,108.50L207.81,112.30M207.81,108.50L204.58,112.30M206.20,108.50L206.20,112.30" stroke="#111" stroke-width="0.9"/>
<path d="M213.38,108.50L216.62,112.30M216.62,108.50L213.38,112.30M215.00,108.50L215.00,112.30" stroke="#111" stroke-width="0.9"/>
<path d="M225.19,108.50L228.42,112.30M228.42,108.50L225.19,112.30M226.80,108.50L226.80,112.30" stroke="#111" stroke-width="0.9"/>
<path d="M234.88,45.10L238.12,48.90M238.12,45.10L234.88,48.90M236.50,45.10L236.50,48.90" stroke="#111" stroke-width="0.9"/>
<path d="M246.98,44.60L250.22,48.40M250.22,44.60L246.98,48.40M248.60,44.60L248.60,48.40" stroke="#111" stroke-width="0.9"/>
<path d="M258.58,45.60L261.81,49.40M261.81,45.60L258.58,49.40M260.20,45.60L260.20,49.40" stroke="#111" stroke-width="0.9"/>
<path d="M282.49,49.10L285.72,52.90M285.72,49.10L282.49,52.90M284.10,49.10L284.10,52.90" stroke="#111" stroke-width="0.9"/>
<path d="M330.99,46.10L334.22,49.90M334.22,46.10L330.99,49.90M332.60,46.10L332.60,49.90" stroke="#111" stroke-width="0.9"/>
<rect x="201.02" y="107.84" width="4.36" height="5.12"/>
<rect x="203.42" y="107.84" width="4.36" height="5.12"/>
<polyline points="378.00,46.50 381.60,46.50 392.20,47.00 404.80,49.30 416.60,48.30 430.30,48.60 443.20,50.70 455.80,52.20 468.30,48.80 481.20,48.40 506.40,51.70" fill="none" stroke="#111" stroke-width="1.0" stroke-linejoin="round"/>
<ellipse cx="378.00" cy="46.50" rx="1.66" ry="1.95"/>
<ellipse cx="381.60" cy="46.50" rx="1.66" ry="1.95"/>
<ellipse cx="392.20" cy="47.00" rx="1.66" ry="1.95"/>
<ellipse cx="404.80" cy="49.30" rx="1.66" ry="1.95"/>
<ellipse cx="416.60" cy="48.30" rx="1.66" ry="1.95"/>
<ellipse cx="430.30" cy="48.60" rx="1.66" ry="1.95"/>
<ellipse cx="443.20" cy="50.70" rx="1.66" ry="1.95"/>
<ellipse cx="455.80" cy="52.20" rx="1.66" ry="1.95"/>
<ellipse cx="468.30" cy="48.80" rx="1.66" ry="1.95"/>
<ellipse cx="481.20" cy="48.40" rx="1.66" ry="1.95"/>
<ellipse cx="506.40" cy="51.70" rx="1.66" ry="1.95"/>
<polyline points="378.00,48.50 381.60,48.50 392.20,49.50 404.80,55.60 416.70,61.30 430.30,62.80 443.60,79.30 455.80,110.20" fill="none" stroke="#111" stroke-width="1.0" stroke-linejoin="round"/>
<path d="M376.38,46.60L379.62,50.40M379.62,46.60L376.38,50.40" stroke="#111" stroke-width="0.9"/>
<path d="M379.99,46.60L383.22,50.40M383.22,46.60L379.99,50.40" stroke="#111" stroke-width="0.9"/>
<path d="M390.58,47.60L393.81,51.40M393.81,47.60L390.58,51.40" stroke="#111" stroke-width="0.9"/>
<path d="M403.19,53.70L406.42,57.50M406.42,53.70L403.19,57.50" stroke="#111" stroke-width="0.9"/>
<path d="M415.08,59.40L418.31,63.20M418.31,59.40L415.08,63.20" stroke="#111" stroke-width="0.9"/>
<path d="M428.69,60.90L431.92,64.70M431.92,60.90L428.69,64.70" stroke="#111" stroke-width="0.9"/>
<path d="M441.99,77.40L445.22,81.20M445.22,77.40L441.99,81.20" stroke="#111" stroke-width="0.9"/>
<path d="M454.19,108.30L457.42,112.10M457.42,108.30L454.19,112.10" stroke="#111" stroke-width="0.9"/>
<polyline points="378.00,50.50 381.60,51.00 392.20,53.00 404.80,59.60 416.70,67.20 430.30,78.20 443.20,110.20" fill="none" stroke="#111" stroke-width="1.0" stroke-linejoin="round"/>
<polygon points="378.00,48.10 380.04,50.50 378.00,52.90 375.96,50.50"/>
<polygon points="381.60,48.60 383.64,51.00 381.60,53.40 379.56,51.00"/>
<polygon points="392.20,50.60 394.24,53.00 392.20,55.40 390.16,53.00"/>
<polygon points="404.80,57.20 406.84,59.60 404.80,62.00 402.76,59.60"/>
<polygon points="416.70,64.80 418.74,67.20 416.70,69.60 414.66,67.20"/>
<polygon points="430.30,75.80 432.34,78.20 430.30,80.60 428.26,78.20"/>
<polygon points="443.20,107.80 445.24,110.20 443.20,112.60 441.16,110.20"/>
<polyline points="378.00,52.00 381.60,52.50 392.20,55.00 408.90,69.60" fill="none" stroke="#111" stroke-width="1.0" stroke-linejoin="round"/>
<path d="M376.38,50.10L379.62,53.90M379.62,50.10L376.38,53.90M378.00,50.10L378.00,53.90" stroke="#111" stroke-width="0.9"/>
<path d="M379.99,50.60L383.22,54.40M383.22,50.60L379.99,54.40M381.60,50.60L381.60,54.40" stroke="#111" stroke-width="0.9"/>
<path d="M390.58,53.10L393.81,56.90M393.81,53.10L390.58,56.90M392.20,53.10L392.20,56.90" stroke="#111" stroke-width="0.9"/>
<path d="M407.28,67.70L410.51,71.50M410.51,67.70L407.28,71.50M408.90,67.70L408.90,71.50" stroke="#111" stroke-width="0.9"/>
<polyline points="378.00,54.00 381.60,54.00 392.20,57.00 404.60,81.60 416.50,110.20" fill="none" stroke="#111" stroke-width="1.0" stroke-linejoin="round"/>
<rect x="376.26" y="51.95" width="3.48" height="4.10"/>
<rect x="379.86" y="51.95" width="3.48" height="4.10"/>
<rect x="390.46" y="54.95" width="3.48" height="4.10"/>
<rect x="402.86" y="79.55" width="3.48" height="4.10"/>
<rect x="414.76" y="108.15" width="3.48" height="4.10"/>
<polyline points="378.00,55.50 381.60,55.00 392.20,59.00 404.60,86.00 416.50,110.20" fill="none" stroke="#111" stroke-width="1.0" stroke-linejoin="round"/>
<polygon points="378.00,53.30 379.87,57.26 376.13,57.26"/>
<polygon points="381.60,52.80 383.47,56.76 379.73,56.76"/>
<polygon points="392.20,56.80 394.07,60.76 390.33,60.76"/>
<polygon points="404.60,83.80 406.47,87.76 402.73,87.76"/>
<polygon points="416.50,108.00 418.37,111.96 414.63,111.96"/>
<polyline points="378.00,47.50 381.60,50.00 392.20,61.00 404.60,84.00 416.50,110.20" fill="none" stroke="#111" stroke-width="1.0" stroke-linejoin="round"/>
<rect x="376.26" y="45.45" width="3.48" height="4.10"/>
<rect x="379.86" y="47.95" width="3.48" height="4.10"/>
<rect x="390.46" y="58.95" width="3.48" height="4.10"/>
<rect x="402.86" y="81.95" width="3.48" height="4.10"/>
<rect x="414.76" y="108.15" width="3.48" height="4.10"/>
<polyline points="378.00,110.20 416.60,110.20 430.30,110.20 443.20,110.20 455.80,110.20 468.30,110.20 481.20,110.20 506.40,110.20" fill="none" stroke="#111" stroke-width="1.0" stroke-linejoin="round"/>
<rect x="376.26" y="108.15" width="3.48" height="4.10"/>
<rect x="414.86" y="108.15" width="3.48" height="4.10"/>
<rect x="428.56" y="108.15" width="3.48" height="4.10"/>
<rect x="441.46" y="108.15" width="3.48" height="4.10"/>
<rect x="454.06" y="108.15" width="3.48" height="4.10"/>
<rect x="466.56" y="108.15" width="3.48" height="4.10"/>
<rect x="479.46" y="108.15" width="3.48" height="4.10"/>
<rect x="504.66" y="108.15" width="3.48" height="4.10"/>
<rect x="390.46" y="44.45" width="3.48" height="4.10"/>
<polyline points="29.70,253.20 34.40,253.20 44.60,190.70 57.00,189.50 69.30,189.30 82.50,188.50 95.20,187.80 108.00,188.10 121.30,188.00 133.40,188.20 159.40,188.30" fill="none" stroke="#111" stroke-width="1.0" stroke-linejoin="round"/>
<ellipse cx="29.70" cy="253.20" rx="1.66" ry="1.95"/>
<ellipse cx="34.40" cy="253.20" rx="1.66" ry="1.95"/>
<ellipse cx="44.60" cy="190.70" rx="1.66" ry="1.95"/>
<ellipse cx="57.00" cy="189.50" rx="1.66" ry="1.95"/>
<ellipse cx="69.30" cy="189.30" rx="1.66" ry="1.95"/>
<ellipse cx="82.50" cy="188.50" rx="1.66" ry="1.95"/>
<ellipse cx="95.20" cy="187.80" rx="1.66" ry="1.95"/>
<ellipse cx="108.00" cy="188.10" rx="1.66" ry="1.95"/>
<ellipse cx="121.30" cy="188.00" rx="1.66" ry="1.95"/>
<ellipse cx="133.40" cy="188.20" rx="1.66" ry="1.95"/>
<ellipse cx="159.40" cy="188.30" rx="1.66" ry="1.95"/>
<polyline points="34.40,253.20 44.30,212.40 56.80,190.80 69.30,192.00 82.50,191.00 95.20,191.00 108.00,191.30 121.30,191.20 133.40,191.30 159.40,191.40" fill="none" stroke="#111" stroke-width="1.0" stroke-linejoin="round"/>
<path d="M32.78,251.30L36.02,255.10M36.02,251.30L32.78,255.10" stroke="#111" stroke-width="0.9"/>
<path d="M42.68,210.50L45.91,214.30M45.91,210.50L42.68,214.30" stroke="#111" stroke-width="0.9"/>
<path d="M55.18,188.90L58.41,192.70M58.41,188.90L55.18,192.70" stroke="#111" stroke-width="0.9"/>
<path d="M67.69,190.10L70.91,193.90M70.91,190.10L67.69,193.90" stroke="#111" stroke-width="0.9"/>
<path d="M80.89,189.10L84.11,192.90M84.11,189.10L80.89,192.90" stroke="#111" stroke-width="0.9"/>
<path d="M93.59,189.10L96.81,192.90M96.81,189.10L93.59,192.90" stroke="#111" stroke-width="0.9"/>
<path d="M106.39,189.40L109.61,193.20M109.61,189.40L106.39,193.20" stroke="#111" stroke-width="0.9"/>
<path d="M119.69,189.30L122.91,193.10M122.91,189.30L119.69,193.10" stroke="#111" stroke-width="0.9"/>
<path d="M131.78,189.40L135.02,193.20M135.02,189.40L131.78,193.20" stroke="#111" stroke-width="0.9"/>
<path d="M157.78,189.50L161.02,193.30M161.02,189.50L157.78,193.30" stroke="#111" stroke-width="0.9"/>
<polyline points="44.90,253.20 57.60,229.80 69.30,190.00 82.50,189.00 95.20,188.30 108.00,188.10 121.30,188.00 133.40,188.20 159.40,188.30" fill="none" stroke="#111" stroke-width="1.0" stroke-linejoin="round"/>
<polygon points="44.90,251.00 46.77,254.96 43.03,254.96"/>
<polygon points="57.60,227.60 59.47,231.56 55.73,231.56"/>
<polygon points="69.30,187.80 71.17,191.76 67.43,191.76"/>
<polygon points="82.50,186.80 84.37,190.76 80.63,190.76"/>
<polygon points="95.20,186.10 97.07,190.06 93.33,190.06"/>
<polygon points="108.00,185.90 109.87,189.86 106.13,189.86"/>
<polygon points="121.30,185.80 123.17,189.76 119.43,189.76"/>
<polygon points="133.40,186.00 135.27,189.96 131.53,189.96"/>
<polygon points="159.40,186.10 161.27,190.06 157.53,190.06"/>
<polyline points="44.90,253.20 57.60,239.40 69.30,191.50 82.50,190.50 95.20,190.80 108.00,191.30 121.30,191.20 133.40,191.30 159.40,191.40" fill="none" stroke="#111" stroke-width="1.0" stroke-linejoin="round"/>
<polygon points="44.90,250.80 46.94,253.20 44.90,255.60 42.86,253.20"/>
<polygon points="57.60,237.00 59.64,239.40 57.60,241.80 55.56,239.40"/>
<polygon points="69.30,189.10 71.34,191.50 69.30,193.90 67.26,191.50"/>
<polygon points="82.50,188.10 84.54,190.50 82.50,192.90 80.46,190.50"/>
<polygon points="95.20,188.40 97.24,190.80 95.20,193.20 93.16,190.80"/>
<polygon points="108.00,188.90 110.04,191.30 108.00,193.70 105.96,191.30"/>
<polygon points="121.30,188.80 123.34,191.20 121.30,193.60 119.26,191.20"/>
<polygon points="133.40,188.90 135.44,191.30 133.40,193.70 131.36,191.30"/>
<polygon points="159.40,189.00 161.44,191.40 159.40,193.80 157.36,191.40"/>
<polyline points="44.90,253.20 58.00,244.90 69.30,193.00 82.50,192.00 95.20,191.20 108.00,191.30 121.30,191.20 133.40,191.30 159.40,191.40" fill="none" stroke="#111" stroke-width="1.0" stroke-linejoin="round"/>
<rect x="43.16" y="251.15" width="3.48" height="4.10"/>
<rect x="56.26" y="242.85" width="3.48" height="4.10"/>
<rect x="67.56" y="190.95" width="3.48" height="4.10"/>
<rect x="80.76" y="189.95" width="3.48" height="4.10"/>
<rect x="93.46" y="189.15" width="3.48" height="4.10"/>
<rect x="106.26" y="189.25" width="3.48" height="4.10"/>
<rect x="119.56" y="189.15" width="3.48" height="4.10"/>
<rect x="131.66" y="189.25" width="3.48" height="4.10"/>
<rect x="157.66" y="189.35" width="3.48" height="4.10"/>
<polyline points="57.60,253.20 69.00,206.80 82.50,196.00 95.20,192.50 108.00,191.30 121.30,191.20 133.40,191.30 159.40,191.40" fill="none" stroke="#111" stroke-width="1.0" stroke-linejoin="round"/>
<ellipse cx="57.60" cy="253.20" rx="1.66" ry="1.95"/>
<ellipse cx="69.00" cy="206.80" rx="1.66" ry="1.95"/>
<ellipse cx="82.50" cy="196.00" rx="1.66" ry="1.95"/>
<ellipse cx="95.20" cy="192.50" rx="1.66" ry="1.95"/>
<ellipse cx="108.00" cy="191.30" rx="1.66" ry="1.95"/>
<ellipse cx="121.30" cy="191.20" rx="1.66" ry="1.95"/>
<ellipse cx="133.40" cy="191.30" rx="1.66" ry="1.95"/>
<ellipse cx="159.40" cy="191.40" rx="1.66" ry="1.95"/>
<polyline points="82.50,253.20 95.20,246.20 108.00,232.10 121.30,223.70 133.40,230.10 159.40,229.30" fill="none" stroke="#111" stroke-width="1.0" stroke-linejoin="round"/>
<path d="M80.89,251.30L84.11,255.10M84.11,251.30L80.89,255.10" stroke="#111" stroke-width="0.9"/>
<path d="M93.59,244.30L96.81,248.10M96.81,244.30L93.59,248.10" stroke="#111" stroke-width="0.9"/>
<path d="M106.39,230.20L109.61,234.00M109.61,230.20L106.39,234.00" stroke="#111" stroke-width="0.9"/>
<path d="M119.69,221.80L122.91,225.60M122.91,221.80L119.69,225.60" stroke="#111" stroke-width="0.9"/>
<path d="M131.78,228.20L135.02,232.00M135.02,228.20L131.78,232.00" stroke="#111" stroke-width="0.9"/>
<path d="M157.78,227.40L161.02,231.20M161.02,227.40L157.78,231.20" stroke="#111" stroke-width="0.9"/>
<line x1="29.40" y1="253.90" x2="162.80" y2="253.90" stroke="#4a4a4a" stroke-width="2.4"/>
<ellipse cx="29.70" cy="253.20" rx="1.66" ry="1.95"/>
<ellipse cx="34.40" cy="253.20" rx="1.66" ry="1.95"/>
<ellipse cx="44.90" cy="253.20" rx="1.66" ry="1.95"/>
<ellipse cx="57.60" cy="253.20" rx="1.66" ry="1.95"/>
<ellipse cx="69.30" cy="253.20" rx="1.66" ry="1.95"/>
<ellipse cx="82.50" cy="253.20" rx="1.66" ry="1.95"/>
<ellipse cx="95.20" cy="253.20" rx="1.66" ry="1.95"/>
<ellipse cx="108.00" cy="253.20" rx="1.66" ry="1.95"/>
<ellipse cx="121.30" cy="253.20" rx="1.66" ry="1.95"/>
<ellipse cx="133.40" cy="253.20" rx="1.66" ry="1.95"/>
<ellipse cx="159.40" cy="253.20" rx="1.66" ry="1.95"/>
<rect x="27.61" y="250.74" width="4.18" height="4.92"/>
<rect x="30.71" y="250.74" width="4.18" height="4.92"/>
<polyline points="200.90,185.00 206.60,185.00 213.50,186.00 226.40,186.50 239.60,190.00 253.40,188.50 267.20,189.00 280.40,192.30 294.10,191.50 307.80,190.40 334.50,190.80" fill="none" stroke="#111" stroke-width="1.0" stroke-linejoin="round"/>
<ellipse cx="200.90" cy="185.00" rx="1.66" ry="1.95"/>
<ellipse cx="206.60" cy="185.00" rx="1.66" ry="1.95"/>
<ellipse cx="213.50" cy="186.00" rx="1.66" ry="1.95"/>
<ellipse cx="226.40" cy="186.50" rx="1.66" ry="1.95"/>
<ellipse cx="239.60" cy="190.00" rx="1.66" ry="1.95"/>
<ellipse cx="253.40" cy="188.50" rx="1.66" ry="1.95"/>
<ellipse cx="267.20" cy="189.00" rx="1.66" ry="1.95"/>
<ellipse cx="280.40" cy="192.30" rx="1.66" ry="1.95"/>
<ellipse cx="294.10" cy="191.50" rx="1.66" ry="1.95"/>
<ellipse cx="307.80" cy="190.40" rx="1.66" ry="1.95"/>
<ellipse cx="334.50" cy="190.80" rx="1.66" ry="1.95"/>
<polyline points="200.90,186.00 206.60,186.50 213.50,187.50 226.40,188.00 239.60,191.50 253.40,190.00 267.20,190.50 280.40,192.80 294.10,192.00 307.80,191.00 334.50,191.50" fill="none" stroke="#111" stroke-width="1.0" stroke-linejoin="round"/>
<rect x="199.16" y="183.95" width="3.48" height="4.10"/>
<rect x="204.86" y="184.45" width="3.48" height="4.10"/>
<rect x="211.76" y="185.45" width="3.48" height="4.10"/>
<rect x="224.66" y="185.95" width="3.48" height="4.10"/>
<rect x="237.86" y="189.45" width="3.48" height="4.10"/>
<rect x="251.66" y="187.95" width="3.48" height="4.10"/>
<rect x="265.46" y="188.45" width="3.48" height="4.10"/>
<rect x="278.66" y="190.75" width="3.48" height="4.10"/>
<rect x="292.36" y="189.95" width="3.48" height="4.10"/>
<rect x="306.06" y="188.95" width="3.48" height="4.10"/>
<rect x="332.76" y="189.45" width="3.48" height="4.10"/>
<polyline points="200.90,187.50 206.60,188.50 213.50,190.00 226.40,192.00 239.60,196.00 253.40,197.00 267.20,196.00 280.40,198.80 294.10,198.00 307.80,198.80 334.50,201.30" fill="none" stroke="#111" stroke-width="1.0" stroke-linejoin="round"/>
<polygon points="200.90,185.10 202.94,187.50 200.90,189.90 198.86,187.50"/>
<polygon points="206.60,186.10 208.64,188.50 206.60,190.90 204.56,188.50"/>
<polygon points="213.50,187.60 215.54,190.00 213.50,192.40 211.46,190.00"/>
<polygon points="226.40,189.60 228.44,192.00 226.40,194.40 224.36,192.00"/>
<polygon points="239.60,193.60 241.64,196.00 239.60,198.40 237.56,196.00"/>
<polygon points="253.40,194.60 255.44,197.00 253.40,199.40 251.36,197.00"/>
<polygon points="267.20,193.60 269.24,196.00 267.20,198.40 265.16,196.00"/>
<polygon points="280.40,196.40 282.44,198.80 280.40,201.20 278.36,198.80"/>
<polygon points="294.10,195.60 296.14,198.00 294.10,200.40 292.06,198.00"/>
<polygon points="307.80,196.40 309.84,198.80 307.80,201.20 305.76,198.80"/>
<polygon points="334.50,198.90 336.54,201.30 334.50,203.70 332.46,201.30"/>
<polyline points="200.90,189.00 206.60,190.50 213.50,192.50 226.40,195.00 239.60,198.50 253.40,199.50 267.20,199.00 280.40,199.50 294.10,199.00 307.80,199.50 334.50,201.70" fill="none" stroke="#111" stroke-width="1.0" stroke-linejoin="round"/>
<polygon points="200.90,186.80 202.77,190.76 199.03,190.76"/>
<polygon points="206.60,188.30 208.47,192.26 204.73,192.26"/>
<polygon points="213.50,190.30 215.37,194.26 211.63,194.26"/>
<polygon points="226.40,192.80 228.27,196.76 224.53,196.76"/>
<polygon points="239.60,196.30 241.47,200.26 237.73,200.26"/>
<polygon points="253.40,197.30 255.27,201.26 251.53,201.26"/>
<polygon points="267.20,196.80 269.07,200.76 265.33,200.76"/>
<polygon points="280.40,197.30 282.27,201.26 278.53,201.26"/>
<polygon points="294.10,196.80 295.97,200.76 292.23,200.76"/>
<polygon points="307.80,197.30 309.67,201.26 305.93,201.26"/>
<polygon points="334.50,199.50 336.37,203.46 332.63,203.46"/>
<polyline points="200.90,190.50 206.60,192.50 213.50,195.00 226.40,198.00 239.60,200.50 253.40,201.50 267.20,201.00 280.40,203.00 294.10,204.00 307.80,204.50 334.50,205.30" fill="none" stroke="#111" stroke-width="1.0" stroke-linejoin="round"/>
<rect x="199.16" y="188.45" width="3.48" height="4.10"/>
<rect x="204.86" y="190.45" width="3.48" height="4.10"/>
<rect x="211.76" y="192.95" width="3.48" height="4.10"/>
<rect x="224.66" y="195.95" width="3.48" height="4.10"/>
<rect x="237.86" y="198.45" width="3.48" height="4.10"/>
<rect x="251.66" y="199.45" width="3.48" height="4.10"/>
<rect x="265.46" y="198.95" width="3.48" height="4.10"/>
<rect x="278.66" y="200.95" width="3.48" height="4.10"/>
<rect x="292.36" y="201.95" width="3.48" height="4.10"/>
<rect x="306.06" y="202.45" width="3.48" height="4.10"/>
<rect x="332.76" y="203.25" width="3.48" height="4.10"/>
<polyline points="200.90,192.00 206.60,194.50 213.50,197.50 226.40,200.50 239.60,202.00 253.40,203.50 267.20,204.50 280.40,204.00 294.10,205.50 307.80,205.00 334.50,205.80" fill="none" stroke="#111" stroke-width="1.0" stroke-linejoin="round"/>
<ellipse cx="200.90" cy="192.00" rx="1.66" ry="1.95"/>
<ellipse cx="206.60" cy="194.50" rx="1.66" ry="1.95"/>
<ellipse cx="213.50" cy="197.50" rx="1.66" ry="1.95"/>
<ellipse cx="226.40" cy="200.50" rx="1.66" ry="1.95"/>
<ellipse cx="239.60" cy="202.00" rx="1.66" ry="1.95"/>
<ellipse cx="253.40" cy="203.50" rx="1.66" ry="1.95"/>
<ellipse cx="267.20" cy="204.50" rx="1.66" ry="1.95"/>
<ellipse cx="280.40" cy="204.00" rx="1.66" ry="1.95"/>
<ellipse cx="294.10" cy="205.50" rx="1.66" ry="1.95"/>
<ellipse cx="307.80" cy="205.00" rx="1.66" ry="1.95"/>
<ellipse cx="334.50" cy="205.80" rx="1.66" ry="1.95"/>
<polyline points="200.90,191.00 206.60,194.00 213.50,196.50 226.40,202.00 240.20,212.50 267.20,206.30 280.40,201.00 294.10,201.50 307.80,202.00 334.50,203.50" fill="none" stroke="#111" stroke-width="1.0" stroke-linejoin="round"/>
<path d="M199.28,189.10L202.52,192.90M202.52,189.10L199.28,192.90M200.90,189.10L200.90,192.90" stroke="#111" stroke-width="0.9"/>
<path d="M204.98,192.10L208.22,195.90M208.22,192.10L204.98,195.90M206.60,192.10L206.60,195.90" stroke="#111" stroke-width="0.9"/>
<path d="M211.88,194.60L215.12,198.40M215.12,194.60L211.88,198.40M213.50,194.60L213.50,198.40" stroke="#111" stroke-width="0.9"/>
<path d="M224.78,200.10L228.02,203.90M228.02,200.10L224.78,203.90M226.40,200.10L226.40,203.90" stroke="#111" stroke-width="0.9"/>
<path d="M238.58,210.60L241.81,214.40M241.81,210.60L238.58,214.40M240.20,210.60L240.20,214.40" stroke="#111" stroke-width="0.9"/>
<path d="M265.58,204.40L268.81,208.20M268.81,204.40L265.58,208.20M267.20,204.40L267.20,208.20" stroke="#111" stroke-width="0.9"/>
<path d="M278.78,199.10L282.01,202.90M282.01,199.10L278.78,202.90M280.40,199.10L280.40,202.90" stroke="#111" stroke-width="0.9"/>
<path d="M292.49,199.60L295.72,203.40M295.72,199.60L292.49,203.40M294.10,199.60L294.10,203.40" stroke="#111" stroke-width="0.9"/>
<path d="M306.19,200.10L309.42,203.90M309.42,200.10L306.19,203.90M307.80,200.10L307.80,203.90" stroke="#111" stroke-width="0.9"/>
<path d="M332.88,201.60L336.12,205.40M336.12,201.60L332.88,205.40M334.50,201.60L334.50,205.40" stroke="#111" stroke-width="0.9"/>
<polyline points="200.90,193.00 206.60,195.50 213.50,198.50 226.40,201.50 239.60,201.00 253.40,202.00 267.20,203.00 280.40,206.00 294.10,214.60 307.80,212.50 334.50,215.40" fill="none" stroke="#111" stroke-width="1.0" stroke-linejoin="round"/>
<path d="M199.28,191.10L202.52,194.90M202.52,191.10L199.28,194.90" stroke="#111" stroke-width="0.9"/>
<path d="M204.98,193.60L208.22,197.40M208.22,193.60L204.98,197.40" stroke="#111" stroke-width="0.9"/>
<path d="M211.88,196.60L215.12,200.40M215.12,196.60L211.88,200.40" stroke="#111" stroke-width="0.9"/>
<path d="M224.78,199.60L228.02,203.40M228.02,199.60L224.78,203.40" stroke="#111" stroke-width="0.9"/>
<path d="M237.98,199.10L241.22,202.90M241.22,199.10L237.98,202.90" stroke="#111" stroke-width="0.9"/>
<path d="M251.78,200.10L255.02,203.90M255.02,200.10L251.78,203.90" stroke="#111" stroke-width="0.9"/>
<path d="M265.58,201.10L268.81,204.90M268.81,201.10L265.58,204.90" stroke="#111" stroke-width="0.9"/>
<path d="M278.78,204.10L282.01,207.90M282.01,204.10L278.78,207.90" stroke="#111" stroke-width="0.9"/>
<path d="M292.49,212.70L295.72,216.50M295.72,212.70L292.49,216.50" stroke="#111" stroke-width="0.9"/>
<path d="M306.19,210.60L309.42,214.40M309.42,210.60L306.19,214.40" stroke="#111" stroke-width="0.9"/>
<path d="M332.88,213.50L336.12,217.30M336.12,213.50L332.88,217.30" stroke="#111" stroke-width="0.9"/>
<path d="M224.78,183.60L228.02,187.40M228.02,183.60L224.78,187.40" stroke="#111" stroke-width="0.9"/>
<rect x="198.36" y="248.45" width="3.48" height="4.10"/>
<rect x="379.3" y="249.6" width="139.5" height="2.4" fill="#9a9a9a"/>
<line x1="379.30" y1="249.30" x2="518.80" y2="249.30" stroke="#222" stroke-width="1.0"/>
<line x1="379.30" y1="252.40" x2="518.80" y2="252.40" stroke="#222" stroke-width="1.0"/>
<polyline points="392.90,250.50 406.60,247.20 420.70,211.30 434.30,225.50 447.70,237.20 461.10,242.20 473.30,250.50" fill="none" stroke="#111" stroke-width="1.0" stroke-linejoin="round"/>
<ellipse cx="406.60" cy="247.20" rx="0.77" ry="0.90"/>
<ellipse cx="420.70" cy="211.30" rx="0.77" ry="0.90"/>
<ellipse cx="434.30" cy="225.50" rx="0.77" ry="0.90"/>
<ellipse cx="447.70" cy="237.20" rx="0.77" ry="0.90"/>
<ellipse cx="461.10" cy="242.20" rx="0.77" ry="0.90"/>
<rect x="377.80" y="248.14" width="4.01" height="4.71"/>
<rect x="384.10" y="248.14" width="4.01" height="4.71"/>
<rect x="390.90" y="248.14" width="4.01" height="4.71"/>
<rect x="404.50" y="248.14" width="4.01" height="4.71"/>
<rect x="417.90" y="248.14" width="4.01" height="4.71"/>
<rect x="431.20" y="248.14" width="4.01" height="4.71"/>
<rect x="445.40" y="248.14" width="4.01" height="4.71"/>
<rect x="458.70" y="248.14" width="4.01" height="4.71"/>
<rect x="471.70" y="248.14" width="4.01" height="4.71"/>
<rect x="486.20" y="248.14" width="4.01" height="4.71"/>
<rect x="513.50" y="248.14" width="4.01" height="4.71"/>
</svg></div>
</body></html>
